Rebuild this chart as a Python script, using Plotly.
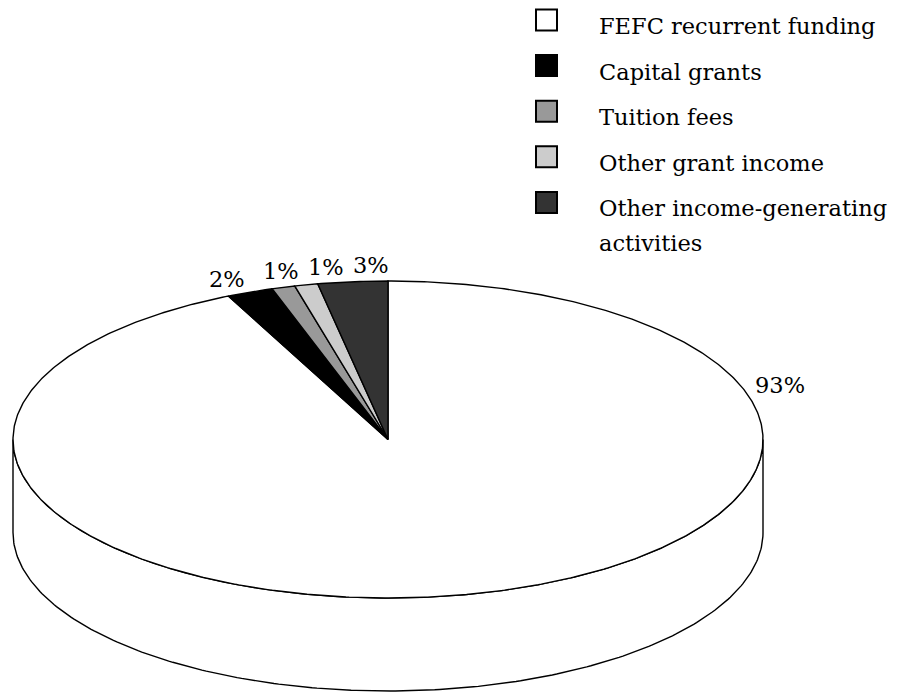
import numpy as np
import plotly.graph_objects as go

# Income sources (per cent of total)
categories = [
    "FEFC recurrent funding",
    "Capital grants",
    "Tuition fees",
    "Other grant income",
    "Other income-generating activities",
]
values = [93, 2, 1, 1, 3]
colors = ["#ffffff", "#000000", "#999999", "#cccccc", "#333333"]

# Layout of the drawing (pixel-like axis units, y grows downwards)
W, H = 897, 692
CX, CY = 388.0, 439.5      # centre of top face
RX, RY = 375.0, 158.5      # ellipse radii of top face
DEPTH = 93.0               # thickness of the pie
LABEL_R = 1.1
LABEL_ANGLES = [71.8, 337.0, 345.0, 351.3, 357.6]   # where each % label sits
FONT = "DejaVu Serif"
FS = 22.5
LINE = dict(color="black", width=1.4)


def ellipse(t_deg, dy=0.0):
    t = np.radians(t_deg)
    return CX + RX * np.sin(t), CY - RY * np.cos(t) + dy


fig = go.Figure()

# Front wall of the cylinder (visible half, from 90 to 270 degrees clockwise)
t_front = np.linspace(90, 270, 240)
xt, yt = ellipse(t_front)
xb, yb = ellipse(t_front[::-1], DEPTH)
fig.add_trace(go.Scatter(
    x=np.concatenate([xt, xb, xt[:1]]), y=np.concatenate([yt, yb, yt[:1]]),
    mode="lines", fill="toself", fillcolor="#ffffff", line=LINE,
    hoverinfo="skip", showlegend=False))

# Top-face slices, clockwise from 12 o'clock
total = float(sum(values))
start = 0.0
for name, v, c in zip(categories, values, colors):
    sweep = 360.0 * v / total
    t = np.linspace(start, start + sweep, max(8, int(sweep * 2)))
    ex, ey = ellipse(t)
    fig.add_trace(go.Scatter(
        x=np.concatenate([[CX], ex, [CX]]), y=np.concatenate([[CY], ey, [CY]]),
        mode="lines", fill="toself", fillcolor=c, line=LINE,
        name=name, hoverinfo="name", showlegend=False))
    start += sweep

# Percentage labels
for v, ang in zip(values, LABEL_ANGLES):
    t = np.radians(ang)
    fig.add_annotation(
        x=CX + LABEL_R * RX * np.sin(t), y=CY - LABEL_R * RY * np.cos(t),
        text=f"{v}%", showarrow=False, xanchor="center", yanchor="middle",
        font=dict(family=FONT, size=FS, color="black"))

# Legend: swatches and names
LEG_X, LEG_TEXT_X, LEG_Y0, LEG_DY = 546.5, 597.0, 20.0, 45.6
for i, (name, c) in enumerate(zip(categories, colors)):
    y = LEG_Y0 + i * LEG_DY
    fig.add_trace(go.Scatter(
        x=[LEG_X], y=[y], mode="markers",
        marker=dict(symbol="square", size=21, color=c,
                    line=dict(color="black", width=2)),
        hoverinfo="skip", showlegend=False))
    words = name.split(" ")
    lines = [name] if len(name) < 26 else [" ".join(words[:2]), " ".join(words[2:])]
    for j, ln in enumerate(lines):
        fig.add_annotation(
            x=LEG_TEXT_X, y=y + 6 + j * 35, text=ln, showarrow=False,
            xanchor="left", yanchor="middle",
            font=dict(family=FONT, size=FS, color="black"))

fig.update_xaxes(range=[0, W], visible=False, fixedrange=True)
fig.update_yaxes(range=[H, 0], visible=False, fixedrange=True)
fig.update_layout(
    width=W, height=H, margin=dict(l=0, r=0, t=0, b=0),
    paper_bgcolor="white", plot_bgcolor="white", showlegend=False)

fig.write_html("out.html")
